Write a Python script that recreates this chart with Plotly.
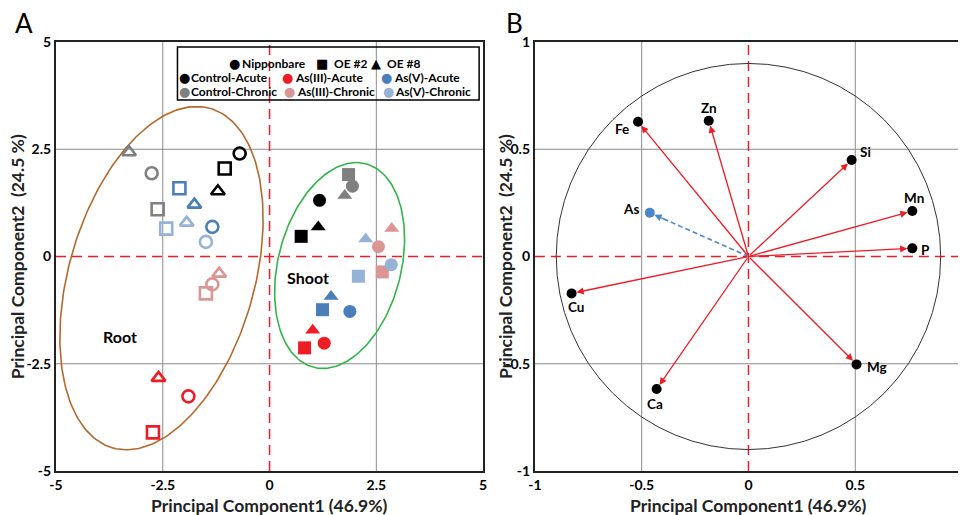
import numpy as np
import plotly.graph_objects as go

# ---------------- data ----------------
genotypes = ["Nipponbare", "OE #2", "OE #8"]
genotype_symbols = ["circle", "square", "triangle-up"]
treatments = ["Control-Acute", "Control-Chronic", "As(III)-Acute",
              "As(III)-Chronic", "As(V)-Acute", "As(V)-Chronic"]
treatment_colors = ["#000000", "#808080", "#EE1C25", "#DA9694", "#4A7EBB", "#95B3D7"]

# PCA scores, one row per treatment, columns ordered Nipponbare, OE #2, OE #8
root_pc1 = [[-0.70, -1.05, -1.21],
            [-2.76, -2.62, -3.29],
            [-1.90, -2.73, -2.60],
            [-1.34, -1.49, -1.18],
            [-1.34, -2.11, -1.76],
            [-1.49, -2.42, -1.94]]
root_pc2 = [[2.40, 2.05, 1.52],
            [1.94, 1.10, 2.43],
            [-3.26, -4.10, -2.83],
            [-0.65, -0.86, -0.40],
            [0.69, 1.59, 1.21],
            [0.34, 0.65, 0.79]]
shoot_pc1 = [[1.17, 0.74, 1.14],
             [1.94, 1.85, 1.76],
             [1.28, 0.82, 1.01],
             [2.55, 2.64, 2.86],
             [1.88, 1.24, 1.44],
             [2.85, 2.08, 2.25]]
shoot_pc2 = [[1.31, 0.47, 0.69],
             [1.64, 1.91, 1.42],
             [-2.02, -2.13, -1.72],
             [0.23, -0.36, 0.65],
             [-1.28, -1.24, -0.93],
             [-0.19, -0.46, 0.41]]

# loadings (panel B)
elements = ["Fe", "Zn", "Si", "Mn", "P", "Cu", "Ca", "Mg", "As"]
load_pc1 = [-0.517, -0.186, 0.483, 0.767, 0.767, -0.828, -0.430, 0.506, -0.462]
load_pc2 = [0.628, 0.633, 0.450, 0.212, 0.038, -0.172, -0.618, -0.503, 0.204]

ticks_a = [-5, -2.5, 0, 2.5, 5]
ticklabels_a = ["-5", "-2.5", "0", "2.5", "5"]
ticks_b = [-1, -0.5, 0, 0.5, 1]
ticklabels_b = ["-1", "-0.5", "0", "0.5", "1"]

# ---------------- styling ----------------
FONT = "Lato"
W, H = 962, 515
ML, MR, MT, MB = 56, 0, 42, 44
PW, PH = W - ML - MR, H - MT - MB


def px_x(px):
    return (px - ML) / PW


def px_y(py):
    return (H - MB - py) / PH


RED = "#EE1C25"
GRID = "#8C8C8C"

fig = go.Figure()

# ellipses (center, semi-axes, angle in degrees) in panel A data units
ellipses = [
    dict(cx=-2.53, cy=-0.505, a=4.118, b=2.17, ang=73.8, color="#B5692C"),
    dict(cx=1.64, cy=-0.21, a=2.45, b=1.44, ang=75.6, color="#33B449"),
]
t = np.linspace(0, 2 * np.pi, 240)
for e in ellipses:
    th = np.deg2rad(e["ang"])
    ex = e["cx"] + e["a"] * np.cos(t) * np.cos(th) - e["b"] * np.sin(t) * np.sin(th)
    ey = e["cy"] + e["a"] * np.cos(t) * np.sin(th) + e["b"] * np.sin(t) * np.cos(th)
    fig.add_trace(go.Scatter(x=ex, y=ey, mode="lines", line=dict(color=e["color"], width=1.6),
                             hoverinfo="skip", showlegend=False, xaxis="x", yaxis="y"))

# root (open) and shoot (filled) scores
for i, treat in enumerate(treatments):
    c = treatment_colors[i]
    fig.add_trace(go.Scatter(
        x=root_pc1[i], y=root_pc2[i], mode="markers", name=treat + " root",
        text=genotypes, showlegend=False, xaxis="x", yaxis="y",
        marker=dict(symbol=[s + "-open" for s in genotype_symbols], size=12,
                    color=c, line=dict(color=c, width=2.6))))
for i, treat in enumerate(treatments):
    c = treatment_colors[i]
    fig.add_trace(go.Scatter(
        x=shoot_pc1[i], y=shoot_pc2[i], mode="markers", name=treat + " shoot",
        text=genotypes, showlegend=False, xaxis="x", yaxis="y",
        marker=dict(symbol=genotype_symbols, size=13, color=c, line=dict(width=0))))

# panel B: As dashed arrow shaft
as_i = elements.index("As")
fig.add_trace(go.Scatter(x=[0, load_pc1[as_i]], y=[0, load_pc2[as_i]], mode="lines",
                         line=dict(color="#4A86C8", width=1.5, dash="5px,3px"),
                         hoverinfo="skip", showlegend=False, xaxis="x2", yaxis="y2"))

shapes = []
annotations = []

# arrows (panel B)
for i, el in enumerate(elements):
    col = "#4A86C8" if el == "As" else RED
    if el == "As":
        axv, ayv = load_pc1[i] * 0.8, load_pc2[i] * 0.8
    else:
        axv, ayv = 0, 0
    annotations.append(dict(x=load_pc1[i], y=load_pc2[i], ax=axv, ay=ayv,
                            xref="x2", yref="y2", axref="x2", ayref="y2", text="",
                            showarrow=True, arrowhead=2, arrowsize=1.1, arrowwidth=1.3,
                            arrowcolor=col, standoff=5))

dot_colors = ["#4A86C8" if el == "As" else "#000000" for el in elements]
fig.add_trace(go.Scatter(x=load_pc1, y=load_pc2, mode="markers", text=elements,
                         marker=dict(size=10, color=dot_colors), showlegend=False,
                         xaxis="x2", yaxis="y2"))

# element labels offsets in px (dx right, dy up)
label_offsets = {"Fe": (-16, -7), "Zn": (0, 13), "Si": (14, 8), "Mn": (2, 13), "P": (13, -2),
                 "Cu": (4, -14), "Ca": (-2, -15), "Mg": (20, -3), "As": (-19, 4)}
for i, el in enumerate(elements):
    dx, dy = label_offsets[el]
    annotations.append(dict(x=load_pc1[i], y=load_pc2[i], xref="x2", yref="y2", text=el,
                            showarrow=False, xshift=dx, yshift=dy,
                            font=dict(family=FONT, size=13.5, color="black", weight="bold")))

# grid lines and red dashed zero lines
for v in [-2.5, 2.5]:
    shapes.append(dict(type="line", xref="x", yref="y", x0=v, x1=v, y0=-5, y1=5,
                       line=dict(color=GRID, width=1), layer="below"))
    shapes.append(dict(type="line", xref="x", yref="y", x0=-5, x1=5, y0=v, y1=v,
                       line=dict(color=GRID, width=1), layer="below"))
for v in [-0.5, 0.5]:
    shapes.append(dict(type="line", xref="x2", yref="y2", x0=v, x1=v, y0=-1, y1=1,
                       line=dict(color=GRID, width=1), layer="below"))
    shapes.append(dict(type="line", xref="x2", yref="y2", x0=-1, x1=1, y0=v, y1=v,
                       line=dict(color=GRID, width=1), layer="below"))
for xr, yr, lim in [("x", "y", 5), ("x2", "y2", 1)]:
    shapes.append(dict(type="line", xref=xr, yref=yr, x0=0, x1=0, y0=-lim, y1=lim,
                       line=dict(color=RED, width=1.5, dash="10px,6px"), layer="below"))
    shapes.append(dict(type="line", xref=xr, yref=yr, x0=-lim, x1=lim, y0=0, y1=0,
                       line=dict(color=RED, width=1.5, dash="10px,6px"), layer="below"))

# circle in panel B
shapes.append(dict(type="circle", xref="x2", yref="y2", x0=-0.9, x1=0.9, y0=-0.9, y1=0.9,
                   line=dict(color="#333333", width=1), layer="below"))

# legend box (panel A)
shapes.append(dict(type="rect", xref="paper", yref="paper",
                   x0=px_x(178), x1=px_x(481), y0=px_y(100), y1=px_y(47),
                   line=dict(color="black", width=1.5)))

LF = dict(family=FONT, size=12, color="black", weight="bold")


def ptext(px, py, text, font, xanchor="center", yanchor="middle", angle=0):
    annotations.append(dict(x=px_x(px), y=px_y(py), xref="paper", yref="paper", text=text,
                            showarrow=False, xanchor=xanchor, yanchor=yanchor,
                            textangle=angle, font=font, borderpad=0))


# legend row 1: genotype symbols
sym_chars = ["\u25CF", "\u25A0", "\u25B2"]
for (sx, tx), ch, g in zip([(235, 242), (323, 334), (377, 387)], sym_chars, genotypes):
    ptext(sx, 63, ch, dict(family="DejaVu Sans", size=13, color="black"))
    ptext(tx, 63, g, LF, xanchor="left")
# legend rows 2-3: treatment colours
leg_pos = [(185, 77), (185, 91), (289, 77), (291, 91), (388, 77), (390, 91)]
for (sx, sy), treat, c in zip(leg_pos, treatments, treatment_colors):
    ptext(sx, sy, "\u25CF", dict(family="DejaVu Sans", size=13, color=c))
    ptext(sx + 6, sy, treat, LF, xanchor="left")

# group labels
ptext(120, 336, "Root", dict(family=FONT, size=16, color="black", weight="bold"))
ptext(309, 277, "Shoot", dict(family=FONT, size=16, color="black", weight="bold"))

# panel letters
ptext(24, 23, "A", dict(family=FONT, size=26, color="black"))
ptext(517, 23, "B", dict(family=FONT, size=26, color="black"))

# axis titles
TF = dict(family=FONT, size=17.5, color="#222222", weight="bold")
ptext(270, 505, "Principal Component1 (46.9%)", TF)
ptext(752, 505, "Principal Component1 (46.9%)", TF)
ptext(17, 257, "Principal Component2 \u00a0(24.5 %)", TF, angle=-90)
ptext(507, 257, "Principal Component2 \u00a0(24.5 %)", TF, angle=-90)

TICKF = dict(family=FONT, size=14, color="black", weight="bold")
axis_common = dict(showgrid=False, zeroline=False, showline=True, linecolor="#222222",
                   linewidth=2, ticks="", tickfont=TICKF, fixedrange=True)

fig.update_layout(
    width=W, height=H, margin=dict(l=ML, r=MR, t=MT, b=MB),
    plot_bgcolor="white", paper_bgcolor="white", showlegend=False,
    xaxis=dict(domain=[0, px_x(485)], range=[-5, 5], tickvals=ticks_a, ticktext=ticklabels_a,
               anchor="y", mirror=True, **axis_common),
    yaxis=dict(domain=[0, 1], range=[-5, 5], tickvals=ticks_a, ticktext=ticklabels_a,
               anchor="x", mirror=True, **axis_common),
    xaxis2=dict(domain=[px_x(537), 1], range=[-1, 0.981], tickvals=ticks_b[:-1],
                ticktext=ticklabels_b[:-1], anchor="y2", mirror=True, **axis_common),
    yaxis2=dict(domain=[0, 1], range=[-1, 1], tickvals=ticks_b, ticktext=ticklabels_b,
                anchor="x2", mirror=False, **axis_common),
    shapes=shapes, annotations=annotations,
)

fig.write_html("out.html", config={"displayModeBar": False},
               post_script="document.body.style.margin='0px';"
                           "document.body.style.overflow='hidden';")
